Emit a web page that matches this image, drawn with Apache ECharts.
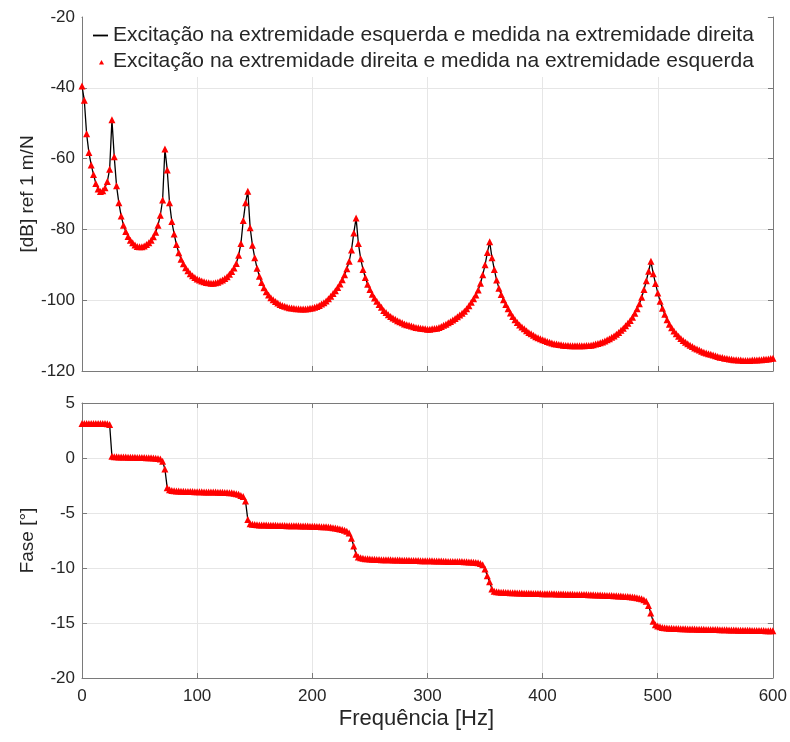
<!DOCTYPE html>
<html>
<head>
<meta charset="utf-8">
<script src="https://cdn.jsdelivr.net/npm/echarts@6/dist/echarts.min.js"></script>
<style>
html, body { margin: 0; padding: 0; background: #fff; }
#chart { width: 790px; height: 742px; }
</style>
</head>
<body>
<div id="chart"></div>
<script>
// frequency grid (Hz), one sample every 2 Hz from 0 to 600
var freqStep = 2;
var freq = [];
for (var f = 0; f <= 600; f += freqStep) freq.push(f);

// magnitude [dB ref 1 m/N], one row = 20 Hz
var magDb = [
  -39.5, -43.5, -53, -58.3, -61.8, -64.5, -67, -68.6, -69.3, -69.1,
  -68.2, -66.5, -63, -49, -59.5, -67.7, -72.5, -76.2, -78.8, -80.6,
  -82, -83.1, -83.8, -84.4, -84.8, -84.9, -84.9, -84.7, -84.3, -83.8,
  -83.1, -82.1, -80.8, -78.8, -76, -71.7, -57.3, -63.2, -72.5, -77.8,
  -81.3, -84.3, -86.6, -88.4, -89.7, -90.8, -91.7, -92.5, -93.1, -93.6,
  -94, -94.3, -94.6, -94.8, -95, -95.1, -95.2, -95.2, -95.1, -94.9,
  -94.6, -94.3, -93.9, -93.4, -92.7, -91.9, -90.9, -89.6, -87.3, -84,
  -77.5, -72.5, -69.2, -79.5, -84.5, -88, -91, -93.2, -95, -96.5,
  -97.6, -98.5, -99.3, -99.9, -100.4, -100.8, -101.2, -101.5, -101.7, -101.9,
  -102.1, -102.2, -102.3, -102.4, -102.4, -102.5, -102.5, -102.5, -102.4, -102.3,
  -102.2, -102, -101.8, -101.5, -101.1, -100.7, -100.2, -99.6, -98.9, -98.1,
  -97.3, -96.4, -95.4, -94.2, -92.8, -91.1, -89, -85.8, -81, -76.8,
  -84, -88.3, -91.3, -93.6, -95.5, -97, -98.3, -99.4, -100.3, -101.2,
  -102, -102.9, -103.5, -104.1, -104.6, -105, -105.4, -105.8, -106.1, -106.4,
  -106.7, -106.9, -107.1, -107.3, -107.5, -107.7, -107.8, -107.9, -108, -108.1,
  -108.2, -108.2, -108.1, -108, -107.9, -107.7, -107.4, -107.1, -106.8, -106.4,
  -106, -105.6, -105.2, -104.7, -104.2, -103.7, -103.1, -102.4, -101.6, -100.6,
  -99.6, -98.5, -97.1, -95.2, -92.8, -90, -86.5, -83.5, -88, -91.3,
  -94.3, -96.6, -98.4, -99.9, -101.2, -102.4, -103.6, -104.6, -105.5, -106.3,
  -107, -107.6, -108.1, -108.6, -109.1, -109.5, -109.9, -110.3, -110.6, -110.9,
  -111.2, -111.4, -111.7, -111.9, -112.1, -112.3, -112.4, -112.5, -112.6, -112.7,
  -112.8, -112.8, -112.9, -112.9, -112.9, -112.9, -112.9, -112.9, -112.9, -112.8,
  -112.8, -112.7, -112.6, -112.4, -112.2, -112, -111.8, -111.5, -111.2, -110.9,
  -110.5, -110.1, -109.6, -109.1, -108.5, -107.9, -107.2, -106.5, -105.7, -104.8,
  -103.7, -102.4, -101, -99.2, -97, -94.5, -91.8, -89, -92.5, -95.3,
  -98, -100.3, -102.3, -104, -105.5, -106.8, -107.8, -108.7, -109.5, -110.2,
  -110.8, -111.4, -111.9, -112.3, -112.7, -113.1, -113.5, -113.8, -114.1, -114.4,
  -114.7, -114.9, -115.1, -115.3, -115.5, -115.7, -115.9, -116.1, -116.2, -116.4,
  -116.5, -116.6, -116.7, -116.8, -116.8, -116.9, -116.9, -117, -117, -117,
  -117, -116.9, -116.9, -116.9, -116.8, -116.8, -116.7, -116.7, -116.6, -116.5,
  -116.4
];

// phase, one row = 20 Hz
var phase = [
  3.14, 3.14, 3.14, 3.14, 3.14, 3.14, 3.14, 3.14, 3.14, 3.13,
  3.13, 3.12, 3.05, 0.15, 0.12, 0.11, 0.1, 0.09, 0.08, 0.08,
  0.07, 0.07, 0.06, 0.06, 0.05, 0.05, 0.04, 0.04, 0.03, 0.03,
  0.02, 0.01, -0.02, -0.05, -0.1, -0.3, -1.0, -2.7, -2.88, -2.95,
  -2.98, -3.0, -3.01, -3.02, -3.03, -3.04, -3.04, -3.05, -3.05, -3.06,
  -3.06, -3.07, -3.07, -3.08, -3.08, -3.09, -3.09, -3.1, -3.1, -3.11,
  -3.11, -3.12, -3.13, -3.14, -3.15, -3.17, -3.2, -3.24, -3.3, -3.4,
  -3.5, -3.9, -5.6, -5.97, -6.02, -6.05, -6.07, -6.08, -6.09, -6.1,
  -6.1, -6.11, -6.11, -6.12, -6.12, -6.13, -6.13, -6.14, -6.14, -6.15,
  -6.15, -6.16, -6.16, -6.17, -6.17, -6.18, -6.18, -6.19, -6.19, -6.2,
  -6.2, -6.21, -6.22, -6.23, -6.24, -6.25, -6.26, -6.28, -6.3, -6.33,
  -6.36, -6.4, -6.45, -6.5, -6.56, -6.66, -6.82, -7.3, -8.0, -8.75,
  -9.0, -9.07, -9.12, -9.15, -9.17, -9.19, -9.2, -9.21, -9.22, -9.23,
  -9.24, -9.25, -9.25, -9.26, -9.26, -9.27, -9.27, -9.28, -9.28, -9.29,
  -9.29, -9.3, -9.3, -9.31, -9.31, -9.32, -9.32, -9.33, -9.33, -9.34,
  -9.34, -9.35, -9.35, -9.36, -9.36, -9.37, -9.37, -9.38, -9.39, -9.4,
  -9.4, -9.4, -9.41, -9.41, -9.42, -9.42, -9.43, -9.44, -9.45, -9.46,
  -9.47, -9.49, -9.52, -9.58, -9.7, -10.1, -10.7, -11.25, -11.9, -12.12,
  -12.15, -12.18, -12.2, -12.21, -12.22, -12.23, -12.24, -12.25, -12.26, -12.27,
  -12.28, -12.28, -12.29, -12.29, -12.3, -12.3, -12.31, -12.31, -12.32, -12.32,
  -12.33, -12.33, -12.34, -12.34, -12.35, -12.35, -12.36, -12.36, -12.37, -12.37,
  -12.38, -12.38, -12.39, -12.39, -12.4, -12.4, -12.41, -12.41, -12.42, -12.42,
  -12.43, -12.43, -12.44, -12.45, -12.45, -12.46, -12.47, -12.48, -12.49, -12.5,
  -12.51, -12.52, -12.53, -12.54, -12.55, -12.57, -12.58, -12.6, -12.62, -12.64,
  -12.67, -12.7, -12.74, -12.8, -12.88, -13.02, -13.4, -14.1, -14.85, -15.15,
  -15.28, -15.35, -15.4, -15.43, -15.45, -15.47, -15.48, -15.49, -15.5, -15.51,
  -15.52, -15.52, -15.53, -15.54, -15.54, -15.55, -15.55, -15.56, -15.56, -15.57,
  -15.57, -15.58, -15.58, -15.59, -15.59, -15.6, -15.6, -15.61, -15.61, -15.62,
  -15.62, -15.63, -15.63, -15.64, -15.64, -15.65, -15.65, -15.66, -15.66, -15.67,
  -15.67, -15.68, -15.68, -15.68, -15.69, -15.69, -15.69, -15.7, -15.7, -15.7,
  -15.71
];

var nameA = 'Excitação na extremidade esquerda e medida na extremidade direita';
var nameB = 'Excitação na extremidade direita e medida na extremidade esquerda';

var magPts = freq.map(function (f, i) { return [f, magDb[i]]; });
var phasePts = freq.map(function (f, i) { return [f, phase[i]]; });

var axisColor = '#7a7a7a', textColor = '#262626', gridColor = '#e6e6e6';
var font = '"Liberation Sans", Arial, sans-serif';

function xAx(grid, pos, main, extra) {
  var a = {
    type: 'value', gridIndex: grid, position: pos, min: 0, max: 600, interval: 100,
    axisLine: { show: true, onZero: false, lineStyle: { color: axisColor, width: 1 } },
    axisTick: { show: true, inside: true, length: 5, lineStyle: { color: axisColor } },
    axisLabel: { show: false },
    splitLine: { show: main, lineStyle: { color: gridColor, width: 1 } }
  };
  return Object.assign(a, extra || {});
}
function yAx(grid, pos, min, max, step, main, extra) {
  var a = {
    type: 'value', gridIndex: grid, position: pos, min: min, max: max, interval: step,
    axisLine: { show: true, onZero: false, lineStyle: { color: axisColor, width: 1 } },
    axisTick: { show: true, inside: true, length: 5, lineStyle: { color: axisColor } },
    axisLabel: main ? { show: true, color: textColor, fontSize: 17, fontFamily: font, margin: 7 } : { show: false },
    splitLine: { show: main, lineStyle: { color: gridColor, width: 1 } }
  };
  return Object.assign(a, extra || {});
}

var chart = echarts.init(document.getElementById('chart'));
chart.setOption({
  animation: false,
  backgroundColor: '#fff',
  grid: [
    { left: 82, top: 17, width: 691, height: 354 },
    { left: 82, top: 403, width: 691, height: 275 }
  ],
  legend: {
    orient: 'vertical', left: 83, top: 17,
    padding: [8, 14, 5, 10], itemGap: 5,
    itemWidth: 15, itemHeight: 8,
    backgroundColor: '#fff',
    itemStyle: { borderWidth: 0 },
    textStyle: { color: textColor, fontSize: 21, fontFamily: font },
    data: [
      { name: nameA, icon: 'path://M0,0M15,8M0,3.1H15V4.9H0Z' },
      { name: nameB, icon: 'path://M0,0M15,8M6,7L8.5,2.5L11,7Z' }
    ]
  },
  xAxis: [
    xAx(0, 'bottom', true),
    xAx(0, 'top', false),
    xAx(1, 'bottom', true, {
      axisLabel: { show: true, color: textColor, fontSize: 17, fontFamily: font, margin: 10 },
      name: 'Frequência [Hz]', nameLocation: 'middle', nameGap: 30,
      nameTextStyle: { color: textColor, fontSize: 22, fontFamily: font, padding: [0, 22, 0, 0] }
    }),
    xAx(1, 'top', false)
  ],
  yAxis: [
    yAx(0, 'left', -120, -20, 20, true, {
      name: '[dB] ref 1 m/N', nameLocation: 'middle', nameGap: 45, nameRotate: 90, nameMoveOverlap: false,
      nameTextStyle: { color: textColor, fontSize: 19, fontFamily: font }
    }),
    yAx(0, 'right', -120, -20, 20, false),
    yAx(1, 'left', -20, 5, 5, true, {
      name: 'Fase [°]', nameLocation: 'middle', nameGap: 45, nameRotate: 90, nameMoveOverlap: false,
      nameTextStyle: { color: textColor, fontSize: 19, fontFamily: font }
    }),
    yAx(1, 'right', -20, 5, 5, false)
  ],
  series: [
    { name: nameA, type: 'line', xAxisIndex: 0, yAxisIndex: 0, data: magPts, z: 2,
      symbol: 'none', showSymbol: false, lineStyle: { color: '#000', width: 1.3 }, itemStyle: { color: '#000' } },
    { name: nameB, type: 'scatter', xAxisIndex: 0, yAxisIndex: 0, data: magPts, z: 4,
      symbol: 'triangle', symbolSize: 7, itemStyle: { color: '#ff0000', opacity: 1 } },
    { name: nameA, type: 'line', xAxisIndex: 2, yAxisIndex: 2, data: phasePts, z: 2,
      symbol: 'none', showSymbol: false, lineStyle: { color: '#000', width: 1.3 }, itemStyle: { color: '#000' } },
    { name: nameB, type: 'scatter', xAxisIndex: 2, yAxisIndex: 2, data: phasePts, z: 4,
      symbol: 'triangle', symbolSize: 7, itemStyle: { color: '#ff0000', opacity: 1 } }
  ]
});
</script>
</body>
</html>
